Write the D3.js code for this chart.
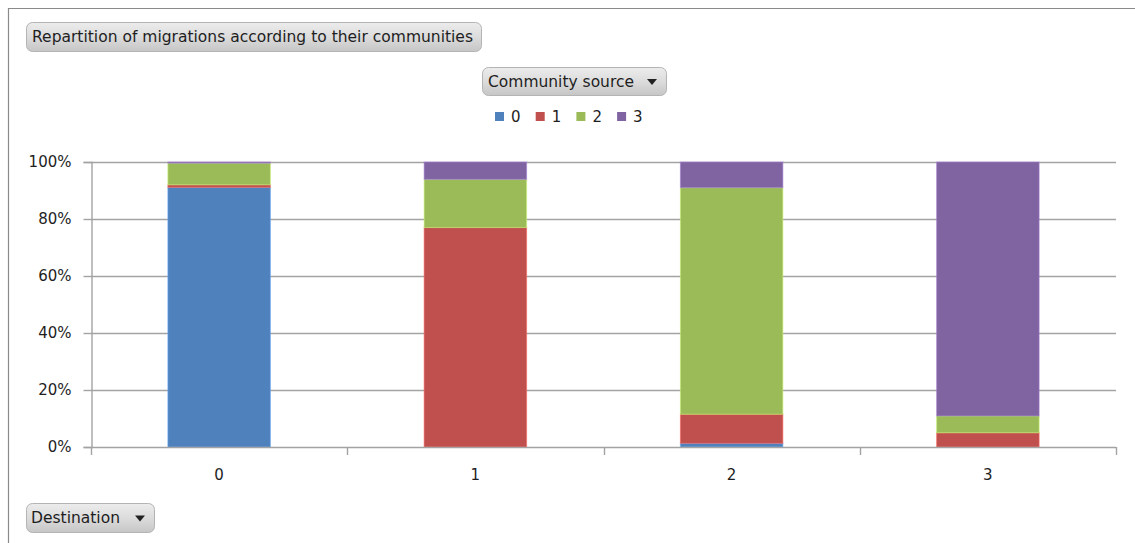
<!DOCTYPE html>
<html>
<head>
<meta charset="utf-8">
<script src="https://cdn.jsdelivr.net/npm/d3@7"></script>
<style>
  html, body { margin: 0; padding: 0; background: #fff; }
  svg { display: block; }
  text { font-family: "DejaVu Sans", Verdana, sans-serif; fill: #1e1e1e; }
</style>
</head>
<body>
<svg id="chart" width="1135" height="543"></svg>
<script>
// Destination communities (x categories) and source-community shares (%)
const destinations = ["0", "1", "2", "3"];
const sources = ["0", "1", "2", "3"];
const fromSource0 = [91.1, 0.0, 1.3, 0.0];
const fromSource1 = [0.9, 77.0, 10.2, 5.0];
const fromSource2 = [7.6, 16.9, 79.5, 5.9];
const fromSource3 = [0.4, 6.1, 9.0, 89.1];
const yTicks = [0, 0.2, 0.4, 0.6, 0.8, 1.0];
const sourceColors = ["#4F81BD", "#C0504D", "#9BBB59", "#8064A2"];

const chartTitle = "Repartition of migrations according to their communities";
const legendTitle = "Community source";
const axisTitle = "Destination";

const seriesValues = [fromSource0, fromSource1, fromSource2, fromSource3];
const rows = destinations.map((d, i) => {
  const r = { dest: d };
  sources.forEach((s, j) => { r[s] = seriesValues[j][i] / 100; });
  return r;
});

const svg = d3.select("#chart");

// chart frame (top and left edges)
svg.append("line").attr("x1", 8).attr("x2", 1135).attr("y1", 8.5).attr("y2", 8.5)
  .attr("stroke", "#8a8a8a").attr("stroke-width", 1.2);
svg.append("line").attr("x1", 8.5).attr("x2", 8.5).attr("y1", 8).attr("y2", 543)
  .attr("stroke", "#8a8a8a").attr("stroke-width", 1.2);

// gradient for the field buttons
const defs = svg.append("defs");
const grad = defs.append("linearGradient").attr("id", "btnGrad")
  .attr("x1", 0).attr("x2", 0).attr("y1", 0).attr("y2", 1);
grad.append("stop").attr("offset", "0%").attr("stop-color", "#ececec");
grad.append("stop").attr("offset", "50%").attr("stop-color", "#dcdcdc");
grad.append("stop").attr("offset", "100%").attr("stop-color", "#c6c6c6");

function fieldButton(x, y, w, h, label, dropdown, textX) {
  const g = svg.append("g").attr("transform", `translate(${x},${y})`);
  g.append("rect").attr("x", 0.5).attr("y", 0.5).attr("width", w).attr("height", h)
    .attr("rx", 6).attr("ry", 6)
    .attr("fill", "url(#btnGrad)").attr("stroke", "#b4b4b4").attr("stroke-width", 1);
  g.append("text").attr("x", textX).attr("y", h / 2 + 1)
    .attr("dominant-baseline", "middle")
    .attr("font-size", 15).text(label);
  if (dropdown) {
    const cx = w - 14, cy = h / 2 + 1;
    g.append("path")
      .attr("d", `M${cx - 5},${cy - 3}L${cx + 5},${cy - 3}L${cx},${cy + 3}Z`)
      .attr("fill", "#222");
  }
  return g;
}

fieldButton(26, 22, 455, 29, chartTitle, false, 6)
  .select("text").attr("textLength", 441).attr("lengthAdjust", "spacingAndGlyphs");
fieldButton(482, 67, 184, 28, legendTitle, true, 6)
  .select("text").attr("textLength", 146).attr("lengthAdjust", "spacingAndGlyphs");
fieldButton(26, 503, 128, 29, axisTitle, true, 5)
  .select("text").attr("textLength", 89).attr("lengthAdjust", "spacingAndGlyphs");

// legend
const legend = svg.append("g").attr("transform", "translate(495,117)");
sources.forEach((s, i) => {
  const g = legend.append("g").attr("transform", `translate(${i * 40.7},0)`);
  g.append("rect").attr("x", 0).attr("y", -5).attr("width", 9).attr("height", 9)
    .attr("fill", sourceColors[i]);
  g.append("text").attr("x", 16).attr("y", 0).attr("dominant-baseline", "middle")
    .attr("font-size", 15).text(s);
});

// plot area
const plotLeft = 91, plotRight = 1116, plotTop = 162, plotBottom = 447;
const x = d3.scaleBand().domain(destinations).range([plotLeft, plotRight])
  .paddingInner(0.6).paddingOuter(0.3);
const y = d3.scaleLinear().domain([0, 1]).range([plotBottom, plotTop]);

// horizontal gridlines
svg.append("g").selectAll("line").data(yTicks.filter(t => t > 0)).join("line")
  .attr("x1", plotLeft).attr("x2", plotRight)
  .attr("y1", d => Math.round(y(d)) + 0.5).attr("y2", d => Math.round(y(d)) + 0.5)
  .attr("stroke", "#a3a3a3").attr("stroke-width", 1.4);

// y axis
const yAxis = svg.append("g").attr("transform", `translate(${plotLeft + 0.5},0)`)
  .call(d3.axisLeft(y).tickValues(yTicks).tickFormat(d3.format(".0%")).tickSize(8).tickPadding(12));
yAxis.select(".domain").attr("stroke", "#a3a3a3").attr("stroke-width", 1.4);
yAxis.selectAll(".tick line").attr("stroke", "#a3a3a3").attr("stroke-width", 1.4);
yAxis.selectAll(".tick text").attr("font-size", 15).attr("font-family", "DejaVu Sans, sans-serif")
  .attr("fill", "#1e1e1e");

// stacked bars
const stack = d3.stack().keys(sources)(rows);
svg.append("g").selectAll("g").data(stack).join("g")
  .attr("fill", (d, i) => sourceColors[i])
  .attr("stroke", (d, i) => d3.color(sourceColors[i]).brighter(0.7))
  .attr("stroke-opacity", 0.6)
  .attr("stroke-width", 1)
  .selectAll("rect").data(d => d).join("rect")
  .attr("x", d => x(d.data.dest))
  .attr("width", x.bandwidth())
  .attr("y", d => y(d[1]))
  .attr("height", d => Math.max(0, y(d[0]) - y(d[1])));

// x axis: baseline, category boundary ticks, labels
const xAxis = svg.append("g").attr("transform", `translate(0,${plotBottom + 0.5})`)
  .call(d3.axisBottom(x).tickSize(0).tickPadding(22));
xAxis.select(".domain").remove();
xAxis.selectAll(".tick text").attr("font-size", 15).attr("font-family", "DejaVu Sans, sans-serif")
  .attr("fill", "#1e1e1e");
svg.append("line").attr("x1", plotLeft).attr("x2", plotRight)
  .attr("y1", plotBottom + 0.5).attr("y2", plotBottom + 0.5)
  .attr("stroke", "#a3a3a3").attr("stroke-width", 1.4);
const bounds = d3.range(destinations.length + 1).map(i => plotLeft + i * x.step());
svg.append("g").selectAll("line").data(bounds).join("line")
  .attr("x1", d => Math.round(d) + 0.5).attr("x2", d => Math.round(d) + 0.5)
  .attr("y1", plotBottom).attr("y2", plotBottom + 8)
  .attr("stroke", "#a3a3a3").attr("stroke-width", 1.4);
</script>
</body>
</html>
